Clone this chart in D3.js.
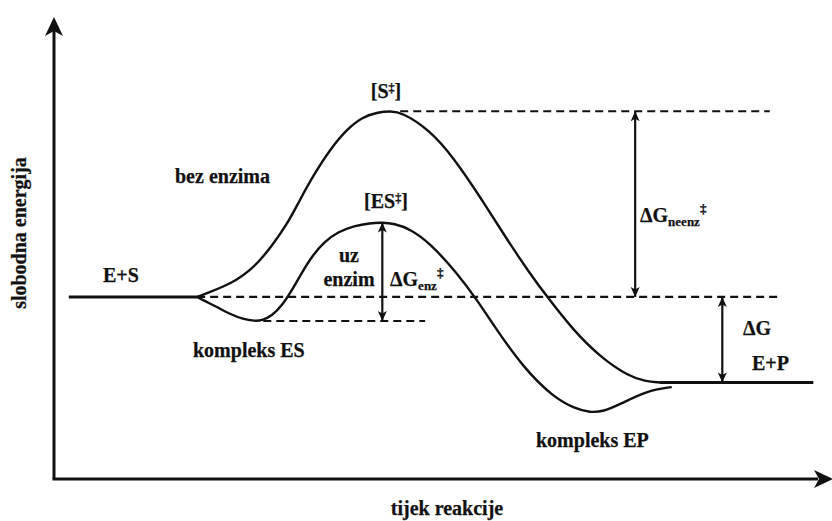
<!DOCTYPE html>
<html>
<head>
<meta charset="utf-8">
<script src="https://cdn.jsdelivr.net/npm/d3@7/dist/d3.min.js"></script>
<style>
  html, body { margin: 0; padding: 0; background: #fff; }
  svg { display: block; }
  text { font-family: "Liberation Serif", "Times New Roman", serif; font-weight: bold; fill: #111; stroke: #111; stroke-width: 0.25px; }
</style>
</head>
<body>
<svg id="chart" width="832" height="521"></svg>
<script>
// ---- data (reaction progress 0..100, free energy 0..100, arbitrary units) ----
const uncatProgress = [18.4, 20.1, 21.7, 23.5, 25.2, 26.5, 27.8, 30.0, 31.6, 33.3, 35.5, 37.7, 39.7, 41.7, 43.2, 44.7, 48.3, 51.3, 54.8, 58.2, 61.2, 63.4, 66.7, 70.2, 74.0, 76.0, 77.6, 78.6];
const uncatEnergy   = [39.4, 40.5, 41.6, 43.1, 45.2, 47.4, 50.0, 55.2, 60.4, 65.6, 71.4, 75.8, 78.4, 79.4, 79.6, 79.4, 75.5, 69.7, 61.0, 51.9, 44.4, 39.4, 32.3, 26.4, 22.1, 21.2, 20.9, 20.9];
const catProgress   = [18.4, 19.4, 21.0, 22.6, 24.3, 25.8, 26.7, 28.0, 29.3, 30.6, 31.9, 33.2, 34.7, 36.5, 38.6, 40.6, 42.2, 43.7, 45.8, 48.3, 51.8, 54.4, 56.9, 60.3, 64.1, 67.0, 68.9, 70.6, 72.8, 76.2, 79.4];
const catEnergy     = [39.4, 38.5, 37.2, 35.7, 34.6, 34.2, 34.3, 35.3, 37.5, 40.9, 44.8, 48.3, 51.3, 53.5, 54.8, 55.4, 55.5, 55.3, 54.1, 51.1, 44.6, 38.7, 32.3, 24.2, 17.8, 15.2, 14.4, 14.6, 16.2, 19.1, 19.9];
// energy levels
const levelNames  = ["E+S", "S‡", "ES‡", "ES", "E+P", "EP"];
const levelValues = [39.4, 79.6, 55.5, 34.2, 20.9, 14.5];
// flat segments (reactants, products)
const reactantRange = [1.9, 18.4];
const productRange  = [77.9, 97.6];
// dashed reference lines [level, from, to]
const dashLevels = ["S‡", "E+S", "ES"];
const dashFrom   = [44.5, 18.4, 26.9];
const dashTo     = [92.0, 93.3, 47.7];
// energy-difference arrows [at progress, from level, to level]
const arrowNames = ["ΔGneenz‡", "ΔGenz‡", "ΔG"];
const arrowAt    = [74.7, 42.2, 85.9];
const arrowFrom  = ["S‡", "ES‡", "E+S"];
const arrowTo    = ["E+S", "ES", "E+P"];

const lvl = n => levelValues[levelNames.indexOf(n)];

const svg = d3.select("#chart");
const x = d3.scaleLinear().domain([0, 100]).range([54, 832]);
const y = d3.scaleLinear().domain([0, 100]).range([479, 17]);
const ink = "#111";

// markers
const defs = svg.append("defs");
defs.append("marker").attr("id", "ah").attr("viewBox", "0 0 10 10")
  .attr("refX", 10).attr("refY", 5).attr("markerWidth", 10).attr("markerHeight", 10)
  .attr("markerUnits", "userSpaceOnUse").attr("orient", "auto-start-reverse")
  .append("path").attr("d", "M0,0.5 L10,5 L0,9.5 L2.5,5 Z").attr("fill", ink);

// axes
svg.append("line").attr("x1", x(0)).attr("y1", y(0)).attr("x2", x(0)).attr("y2", y(100) + 12)
  .attr("stroke", ink).attr("stroke-width", 3);
svg.append("line").attr("x1", x(0) - 1.5).attr("y1", y(0)).attr("x2", x(100) - 14).attr("y2", y(0))
  .attr("stroke", ink).attr("stroke-width", 3);
svg.append("path")
  .attr("d", `M${x(0)},${y(100)} L${x(0) + 9},${y(100) + 19} L${x(0)},${y(100) + 14} L${x(0) - 9},${y(100) + 19} Z`)
  .attr("fill", ink);
svg.append("path")
  .attr("d", `M${x(100) + 1},${y(0)} L${x(100) - 18},${y(0) - 9} L${x(100) - 13},${y(0)} L${x(100) - 18},${y(0) + 9} Z`)
  .attr("fill", ink);

// dashed lines
dashLevels.forEach((n, i) => {
  svg.append("line").attr("x1", x(dashFrom[i])).attr("x2", x(dashTo[i]))
    .attr("y1", y(lvl(n))).attr("y2", y(lvl(n)))
    .attr("stroke", ink).attr("stroke-width", 2.2).attr("stroke-dasharray", "8,5");
});

// flat reactant / product lines
svg.append("line").attr("x1", x(reactantRange[0])).attr("x2", x(reactantRange[1]))
  .attr("y1", y(lvl("E+S"))).attr("y2", y(lvl("E+S"))).attr("stroke", ink).attr("stroke-width", 3);
svg.append("line").attr("x1", x(productRange[0])).attr("x2", x(productRange[1]))
  .attr("y1", y(lvl("E+P"))).attr("y2", y(lvl("E+P"))).attr("stroke", ink).attr("stroke-width", 3);

// curves
const line = d3.line().x(d => x(d[0])).y(d => y(d[1])).curve(d3.curveBasis);
const uncat = uncatProgress.map((p, i) => [p, uncatEnergy[i]]);
const cat = catProgress.map((p, i) => [p, catEnergy[i]]);
svg.append("path").attr("d", line(uncat)).attr("fill", "none").attr("stroke", ink).attr("stroke-width", 2.4);
svg.append("path").attr("d", line(cat)).attr("fill", "none").attr("stroke", ink).attr("stroke-width", 2.4);

// arrows
arrowNames.forEach((n, i) => {
  svg.append("line").attr("x1", x(arrowAt[i])).attr("x2", x(arrowAt[i]))
    .attr("y1", y(lvl(arrowFrom[i]))).attr("y2", y(lvl(arrowTo[i])))
    .attr("stroke", ink).attr("stroke-width", 2.2)
    .attr("marker-start", "url(#ah)").attr("marker-end", "url(#ah)");
});

// labels
function label(txt, px, py, anchor = "start", size = 20) {
  return svg.append("text").attr("x", px).attr("y", py).attr("text-anchor", anchor)
    .attr("font-size", size).text(txt);
}
label("bez enzima", 175, 183);
label("E+S", 103, 282);
label("kompleks ES", 193, 357);
label("kompleks EP", 536, 447);
label("E+P", 752, 370);
label("ΔG", 743, 335);
label("uz", 349, 262, "middle");
label("enzim", 349, 286, "middle");
label("tijek reakcije", 447, 515, "middle");
svg.append("text").attr("transform", "translate(26,233) rotate(-90)")
  .attr("text-anchor", "middle").attr("font-size", 20).text("slobodna energija");

// bracket labels with superscript
function bracket(main, px, py) {
  const t = svg.append("text").attr("x", px).attr("y", py).attr("text-anchor", "middle").attr("font-size", 20);
  t.append("tspan").text("[" + main);
  t.append("tspan").attr("font-size", 12).attr("dy", -6).text("‡");
  t.append("tspan").attr("dy", 6).text("]");
}
bracket("S", 386, 98);
bracket("ES", 386, 208);

function deltaLabel(sub, px, py) {
  const t = svg.append("text").attr("x", px).attr("y", py).attr("font-size", 20);
  t.append("tspan").text("ΔG");
  t.append("tspan").attr("font-size", 13).attr("dy", 4).text(sub);
  t.append("tspan").attr("font-size", 13).attr("dy", -13).text("‡");
}
deltaLabel("enz", 390, 286);
deltaLabel("neenz", 640, 222);
</script>
</body>
</html>
